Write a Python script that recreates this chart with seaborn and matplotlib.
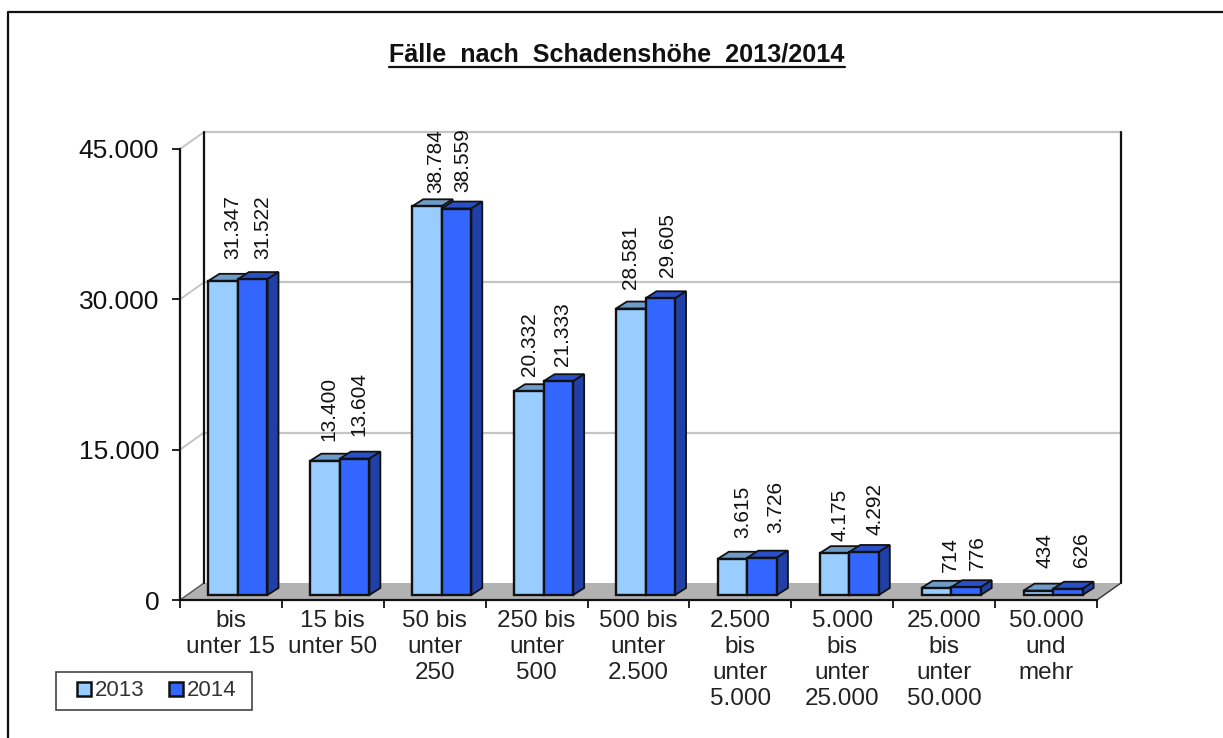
import matplotlib
matplotlib.use("Agg")
import matplotlib.pyplot as plt
from matplotlib.patches import Polygon, Rectangle
from matplotlib.lines import Line2D
from matplotlib.transforms import Affine2D, IdentityTransform
import pandas as pd
import seaborn as sns

categories = ["bis\nunter 15", "15 bis\nunter 50", "50 bis\nunter\n250", "250 bis\nunter\n500",
              "500 bis\nunter\n2.500", "2.500\nbis\nunter\n5.000", "5.000\nbis\nunter\n25.000",
              "25.000\nbis\nunter\n50.000", "50.000\nund\nmehr"]
values_2013 = [31347, 13400, 38784, 20332, 28581, 3615, 4175, 714, 434]
values_2014 = [31522, 13604, 38559, 21333, 29605, 3726, 4292, 776, 626]
y_ticks = [0, 15000, 30000, 45000]
y_tick_labels = ["0", "15.000", "30.000", "45.000"]
title = "Fälle  nach  Schadenshöhe  2013/2014"

# hand-placed data label offsets from the bar's top centre (pixels)
label_dx = {"2013": [10, 4, 9, 1, 0, 10, 5.5, 13.5, 7],
            "2014": [10, 4.5, 6.5, 4, 7, 14, 11, 11, 14]}
label_dy = {"2013": [22, 19.5, 13.5, 15, 19.5, 21, 12, 16, 22.5],
            "2014": [20, 22.5, 16.5, 15, 21, 24.5, 17, 17, 21.5]}

W, H = 1223, 738
sns.set_theme(style="white")
plt.rcParams["font.family"] = ["Liberation Sans", "DejaVu Sans"]
fig = plt.figure(figsize=(W / 100, H / 100), dpi=100)
ax = fig.add_axes([180 / W, 1 - 600 / H, (1097 - 180) / W, (600 - 149) / H])

df = pd.DataFrame({
    "cat": categories * 2,
    "Wert": values_2013 + values_2014,
    "Jahr": ["2013"] * 9 + ["2014"] * 9,
})
front = {"2013": "#99CCFF", "2014": "#3366FF"}
top_col = {"2013": "#6F9BC8", "2014": "#2A50C8"}
side_col = {"2013": "#6F9BC8", "2014": "#2040A8"}
sns.barplot(data=df, x="cat", y="Wert", hue="Jahr", palette=front, width=0.58, gap=0,
            saturation=1, edgecolor="#111111", linewidth=1.7, ax=ax, legend=True)
ax.set_xlim(-0.5, 8.5)
ax.set_ylim(0, 45000)
ax.set_xlabel("")
ax.set_ylabel("")
ax.patch.set_visible(False)

# 3D box: pixel offsets
WALL_DX, WALL_DY = 24, 17      # depth of the chart box
BAR_DX, BAR_DY = 7, 5          # bars sit inside the box
DEP_DX, DEP_DY = 11, 7         # depth of a bar

to_px = ax.transData.transform
idt = IdentityTransform()
x0, x1 = ax.get_xlim()

def px(x, y, dx=0, dy=0):
    a = to_px((x, y))
    return (a[0] + dx, a[1] + dy)

# floor
ax.add_patch(Polygon([px(x0, 0), px(x1, 0), px(x1, 0, WALL_DX, WALL_DY), px(x0, 0, WALL_DX, WALL_DY)],
                     closed=True, transform=idt, facecolor="#B2B2B2", edgecolor="none",
                     zorder=0.5, clip_on=False))
# grid on back wall and slanted lines on side wall
for v in y_ticks[1:]:
    ax.add_line(Line2D(*zip(px(x0, v, WALL_DX, WALL_DY), px(x1, v, WALL_DX, WALL_DY)), transform=idt,
                       color="#C4C4C4", lw=1.6, zorder=0.6, clip_on=False))
    ax.add_line(Line2D(*zip(px(x0, v), px(x0, v, WALL_DX, WALL_DY)), transform=idt,
                       color="#C4C4C4", lw=1.4, zorder=0.6, clip_on=False))
ax.add_line(Line2D(*zip(px(x0, 0), px(x0, 0, WALL_DX, WALL_DY)), transform=idt,
                   color="#555555", lw=1.0, zorder=0.7, clip_on=False))
ax.add_line(Line2D(*zip(px(x1, 0), px(x1, 0, WALL_DX, WALL_DY)), transform=idt,
                   color="#333333", lw=1.0, zorder=0.7, clip_on=False))
# vertical wall edges
for xx in (x0, x1):
    ax.add_line(Line2D(*zip(px(xx, 0, WALL_DX, WALL_DY), px(xx, 45000, WALL_DX, WALL_DY)), transform=idt,
                       color="#111111", lw=1.6, zorder=0.8, clip_on=False))

# bars: shift and extrude
shift = ax.transData + Affine2D().translate(BAR_DX, BAR_DY)
for k, (cont, year) in enumerate(zip(ax.containers, ["2013", "2014"])):
    for i, bar in enumerate(cont):
        bar.set_transform(shift)
        bar.set_clip_on(False)
        bar.set_zorder(3 + 2 * k + 1)
        l, r, h = bar.get_x(), bar.get_x() + bar.get_width(), bar.get_height()
        fl = px(l, h, BAR_DX, BAR_DY)
        fr = px(r, h, BAR_DX, BAR_DY)
        br = px(r, 0, BAR_DX, BAR_DY)
        d = lambda p: (p[0] + DEP_DX, p[1] + DEP_DY)
        ax.add_patch(Polygon([fl, fr, d(fr), d(fl)], closed=True, transform=idt,
                             facecolor=top_col[year], edgecolor="#111111", lw=1.3,
                             zorder=3 + 2 * k, clip_on=False))
        ax.add_patch(Polygon([fr, br, d(br), d(fr)], closed=True, transform=idt,
                             facecolor=side_col[year], edgecolor="#111111", lw=1.3,
                             zorder=3 + 2 * k, clip_on=False))
        ax.annotate(f"{int(h):,}".replace(",", "."), xy=px((l + r) / 2, h, BAR_DX, BAR_DY),
                    xycoords=idt, xytext=(label_dx[year][i] * 0.72, label_dy[year][i] * 0.72),
                    textcoords="offset points", rotation=90, ha="center", va="bottom",
                    fontsize=15, color="#111111", zorder=8, annotation_clip=False)

# axes
for s in ("top", "right"):
    ax.spines[s].set_visible(False)
for s in ("left", "bottom"):
    ax.spines[s].set_color("#111111")
    ax.spines[s].set_linewidth(1.6)
    ax.spines[s].set_zorder(2)
ax.set_yticks(y_ticks, y_tick_labels)
ax.tick_params(axis="y", left=True, length=6, width=1.3, color="#111111", labelsize=19,
               labelcolor="#111111", pad=9)
ax.set_xticks(range(len(categories)), categories)
ax.tick_params(axis="x", which="major", bottom=False, length=0, labelsize=17.5,
               labelcolor="#222222", pad=7)
ax.set_xticks([i - 0.5 for i in range(len(categories) + 1)], minor=True)
ax.tick_params(axis="x", which="minor", bottom=True, length=6, width=1.3, color="#111111")
for t in ax.get_xticklabels():
    t.set_linespacing(1.24)

# legend
handles, labels = ax.get_legend_handles_labels()
ax.get_legend().remove()
fig.add_artist(Rectangle((56, H - 710), 196, 38, transform=idt, facecolor="white",
                         edgecolor="#444444", lw=1.2, zorder=1))
leg = fig.legend(handles, labels, loc="center", bbox_to_anchor=(157 / W, 1 - 691 / H),
                 bbox_transform=fig.transFigure, ncol=2, frameon=False, fontsize=16,
                 handlelength=0.6, handleheight=0.6, handletextpad=0.2, columnspacing=1.1,
                 borderaxespad=0, borderpad=0, labelcolor="#333333")
leg.set_zorder(2)
for p in leg.get_patches():
    p.set_edgecolor("#111111")
    p.set_linewidth(1.8)

# title with underline
t = fig.text(617 / W, 1 - 55 / H, title, ha="center", va="center", fontsize=18.1,
             fontweight="bold", color="#111111")
fig.canvas.draw()
bb = t.get_window_extent()
fig.add_artist(Line2D([bb.x0, bb.x1], [H - 67, H - 67], transform=idt, color="#111111", lw=1.6))

# outer frame
fig.add_artist(Line2D([8, 8, W], [0, H - 12, H - 12], transform=idt, color="#111111", lw=1.6))

fig.savefig("out.png", dpi=100, facecolor="white")
